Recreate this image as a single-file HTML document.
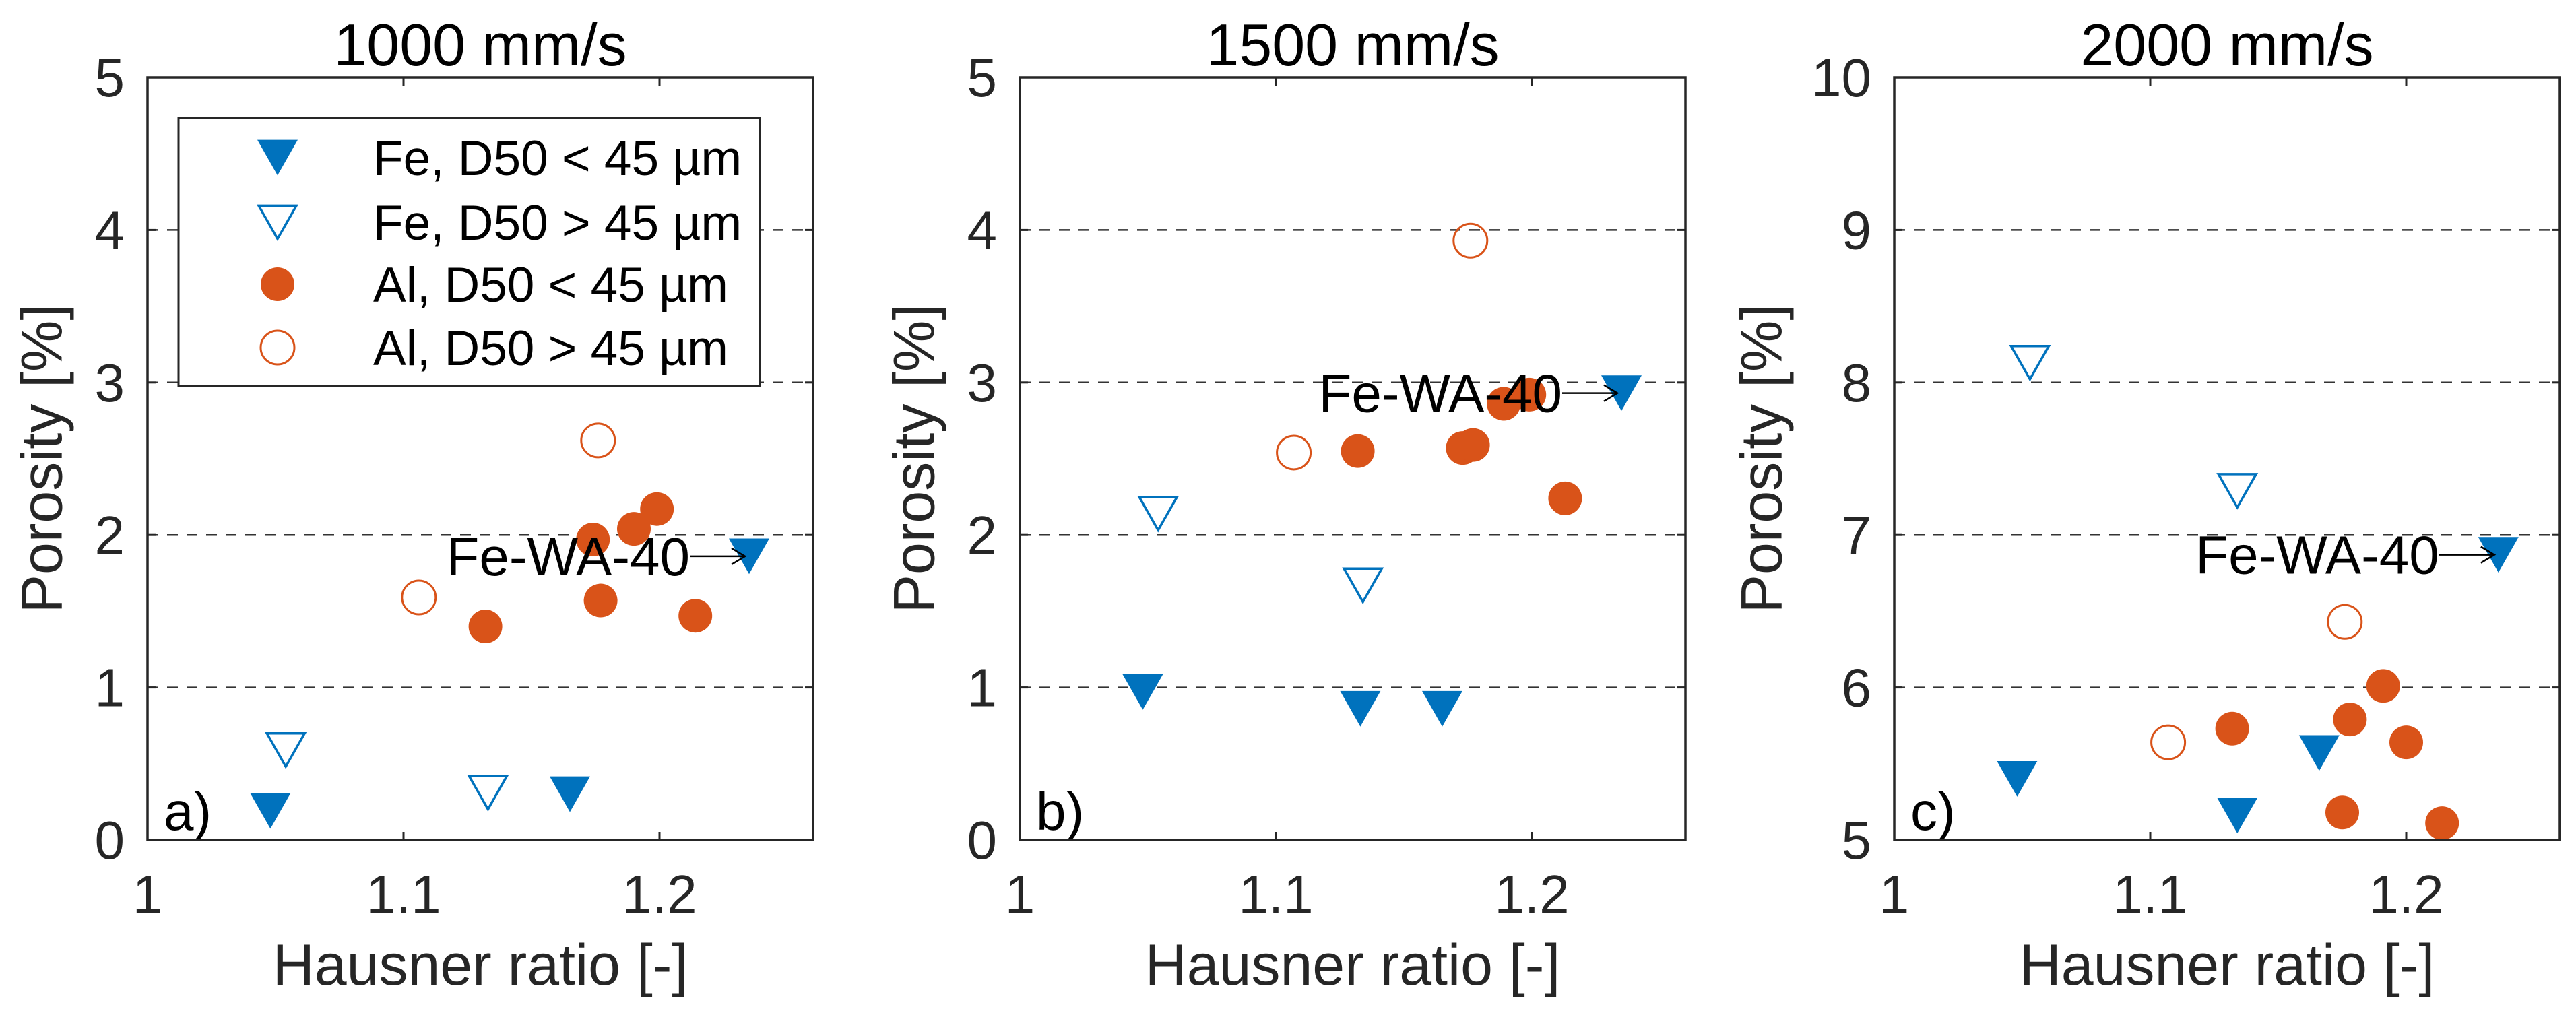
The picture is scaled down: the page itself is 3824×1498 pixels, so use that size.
<!DOCTYPE html>
<html><head><meta charset="utf-8"><style>
html,body{margin:0;padding:0;background:#fff;}
svg{display:block;font-family:"Liberation Sans",Arial,sans-serif;}
</style></head><body>
<svg id="fig" width="3824" height="1498" viewBox="0 0 3824 1498" xmlns="http://www.w3.org/2000/svg"></svg>
<script>
// ---- data ----
const panelTitles = ["1000 mm/s", "1500 mm/s", "2000 mm/s"];
const panelLetters = ["a)", "b)", "c)"];
const yMins = [0, 0, 5];
const yMaxs = [5, 5, 10];
const xTicks = [1, 1.1, 1.2];
const xTickLabels = ["1", "1.1", "1.2"];
const yTicksA = [0, 1, 2, 3, 4, 5];
const yTicksC = [5, 6, 7, 8, 9, 10];

// Fe, D50 < 45 µm (filled triangles)
const feFineX = [[1.048, 1.165, 1.235], [1.048, 1.133, 1.165, 1.235], [1.048, 1.134, 1.166, 1.236]];
const feFineY = [[0.19, 0.30, 1.86], [0.97, 0.86, 0.86, 2.93], [5.40, 5.16, 5.57, 6.87]];
// Fe, D50 > 45 µm (open triangles)
const feCoarseX = [[1.054, 1.133], [1.054, 1.134], [1.053, 1.134]];
const feCoarseY = [[0.59, 0.31], [2.14, 1.67], [8.13, 7.29]];
// Al, D50 < 45 µm (filled circles)
const alFineX = [[1.132, 1.174, 1.177, 1.190, 1.199, 1.214], [1.132, 1.173, 1.177, 1.189, 1.199, 1.213], [1.132, 1.178, 1.191, 1.200, 1.175, 1.214]];
const alFineY = [[1.40, 1.97, 1.57, 2.04, 2.17, 1.47], [2.55, 2.57, 2.59, 2.86, 2.92, 2.24], [5.73, 5.79, 6.01, 5.64, 5.18, 5.11]];
// Al, D50 > 45 µm (open circles)
const alCoarseX = [[1.106, 1.176], [1.107, 1.176], [1.107, 1.176]];
const alCoarseY = [[1.59, 2.62], [2.54, 3.93], [5.64, 6.43]];
// annotation Fe-WA-40 point
const annotX = [1.235, 1.235, 1.236];
const annotY = [1.86, 2.93, 6.87];

const legendLabels = ["Fe, D50 < 45 µm", "Fe, D50 > 45 µm", "Al, D50 < 45 µm", "Al, D50 > 45 µm"];

// ---- layout ----
const NS = "http://www.w3.org/2000/svg";
const svg = document.getElementById("fig");
const axLeft = [219, 1514, 2812];
const axWidth = 988;
const axTop = 115, axBottom = 1247;
const xMin = 1, xMax = 1.26;
const BLUE = "#0072BD", ORANGE = "#D95319";

function mk(tag, attrs, parent) {
  const e = document.createElementNS(NS, tag);
  for (const k in attrs) e.setAttribute(k, attrs[k]);
  (parent || svg).appendChild(e);
  return e;
}
function txt(str, attrs, parent) { const t = mk("text", attrs, parent); t.textContent = str; return t; }
function triPts(cx, cy, s) {
  const w = s, h = s * 0.88;
  return (cx - w / 2) + "," + (cy - h / 2) + " " + (cx + w / 2) + "," + (cy - h / 2) + " " + cx + "," + (cy + h / 2);
}

for (let p = 0; p < 3; p++) {
  const L = axLeft[p], R = L + axWidth;
  const sx = v => L + (v - xMin) / (xMax - xMin) * axWidth;
  const sy = v => axBottom - (v - yMins[p]) / (yMaxs[p] - yMins[p]) * (axBottom - axTop);
  const g = mk("g", {});
  
  
  const yTicks = p === 2 ? yTicksC : yTicksA;

  // gridlines
  yTicks.forEach(v => {
    if (v === yMins[p] || v === yMaxs[p]) return;
    const l = mk("line", {x1: L, x2: R, y1: sy(v), y2: sy(v), stroke: "#333", "stroke-width": 2.5, "stroke-dasharray": "16,13"}, g);
    
    
  });
  // ticks
  xTicks.forEach(v => {
    mk("line", {x1: sx(v), x2: sx(v), y1: axBottom, y2: axBottom - 12, stroke: "#262626", "stroke-width": 3}, g);
    mk("line", {x1: sx(v), x2: sx(v), y1: axTop, y2: axTop + 12, stroke: "#262626", "stroke-width": 3}, g);
  });
  yTicks.forEach(v => {
    mk("line", {x1: L, x2: L + 12, y1: sy(v), y2: sy(v), stroke: "#262626", "stroke-width": 3}, g);
    mk("line", {x1: R, x2: R - 12, y1: sy(v), y2: sy(v), stroke: "#262626", "stroke-width": 3}, g);
  });
  // tick labels
  xTicks.forEach((v, i) => {
    const t = txt(xTickLabels[i], {x: sx(v), y: 1355, "font-size": 80, "text-anchor": "middle", fill: "#262626"}, g);
    
    
  });
  yTicks.forEach(v => {
    const t = txt(String(v), {x: L - 34, y: sy(v) + 28, "font-size": 80, "text-anchor": "end", fill: "#262626"}, g);
    
    
  });
  // axis titles
  const xt = txt("Hausner ratio [-]", {x: (L + R) / 2, y: 1462, "font-size": 86, "text-anchor": "middle", fill: "#262626"}, g);
  
  
  const ycx = p === 2 ? L - 190 : L - 150;
  const yt = txt("Porosity [%]", {x: ycx, y: (axTop + axBottom) / 2, "font-size": 86, "text-anchor": "middle", "dominant-baseline": "middle", fill: "#262626", transform: "rotate(-90 " + ycx + " " + ((axTop + axBottom) / 2) + ")"}, g);
  
  
  const tt = txt(panelTitles[p], {x: (L + R) / 2, y: 97, "font-size": 88, "text-anchor": "middle", fill: "#000"}, g);
  
  
  const lt = txt(panelLetters[p], {x: L + 24, y: 1232, "font-size": 80, fill: "#000"}, g);
  
  

  // markers
  feCoarseX[p].forEach((v, i) => {
    const m = mk("polygon", {points: triPts(sx(v), sy(feCoarseY[p][i]), 56), fill: "none", stroke: BLUE, "stroke-width": 3.5}, g);
    
    
  });
  alCoarseX[p].forEach((v, i) => {
    const m = mk("circle", {cx: sx(v), cy: sy(alCoarseY[p][i]), r: 25, fill: "none", stroke: ORANGE, "stroke-width": 3}, g);
    
    
  });
  alFineX[p].forEach((v, i) => {
    const m = mk("circle", {cx: sx(v), cy: sy(alFineY[p][i]), r: 25, fill: ORANGE}, g);
    
    
  });
  feFineX[p].forEach((v, i) => {
    const m = mk("polygon", {points: triPts(sx(v), sy(feFineY[p][i]), 60), fill: BLUE}, g);
    
    
  });

  // annotation
  const ax = sx(annotX[p]), ay = sy(annotY[p]);
  const an = txt("Fe-WA-40", {x: ax - 88, y: ay + 28, "font-size": 80, "text-anchor": "end", fill: "#000"}, g);
  
  
  mk("line", {x1: ax - 88, x2: ax - 6, y1: ay, y2: ay, stroke: "#000", "stroke-width": 2.5}, g);
  mk("polyline", {points: (ax - 26) + "," + (ay - 12) + " " + (ax - 6) + "," + ay + " " + (ax - 26) + "," + (ay + 12), fill: "none", stroke: "#000", "stroke-width": 2.5}, g);

  // axes box
  const box = mk("rect", {x: L, y: axTop, width: axWidth, height: axBottom - axTop, fill: "none", stroke: "#262626", "stroke-width": 3.5}, g);
  
  
}

// legend (panel a)
const lg = mk("g", {});


mk("rect", {x: 265, y: 175, width: 863, height: 398, fill: "#fff", stroke: "#262626", "stroke-width": 3}, lg);
const legY = [234, 330, 422, 516];
legendLabels.forEach((s, i) => {
  const cx = 412, cy = legY[i];
  let m;
  if (i === 0) m = mk("polygon", {points: triPts(cx, cy, 60), fill: BLUE}, lg);
  else if (i === 1) m = mk("polygon", {points: triPts(cx, cy, 56), fill: "none", stroke: BLUE, "stroke-width": 3.5}, lg);
  else if (i === 2) m = mk("circle", {cx: cx, cy: cy, r: 25, fill: ORANGE}, lg);
  else m = mk("circle", {cx: cx, cy: cy, r: 25, fill: "none", stroke: ORANGE, "stroke-width": 3}, lg);
  
  
  const t = txt(s, {x: 554, y: cy + 26, "font-size": 73, fill: "#000"}, lg);
  
  
});
</script>
</body></html>
